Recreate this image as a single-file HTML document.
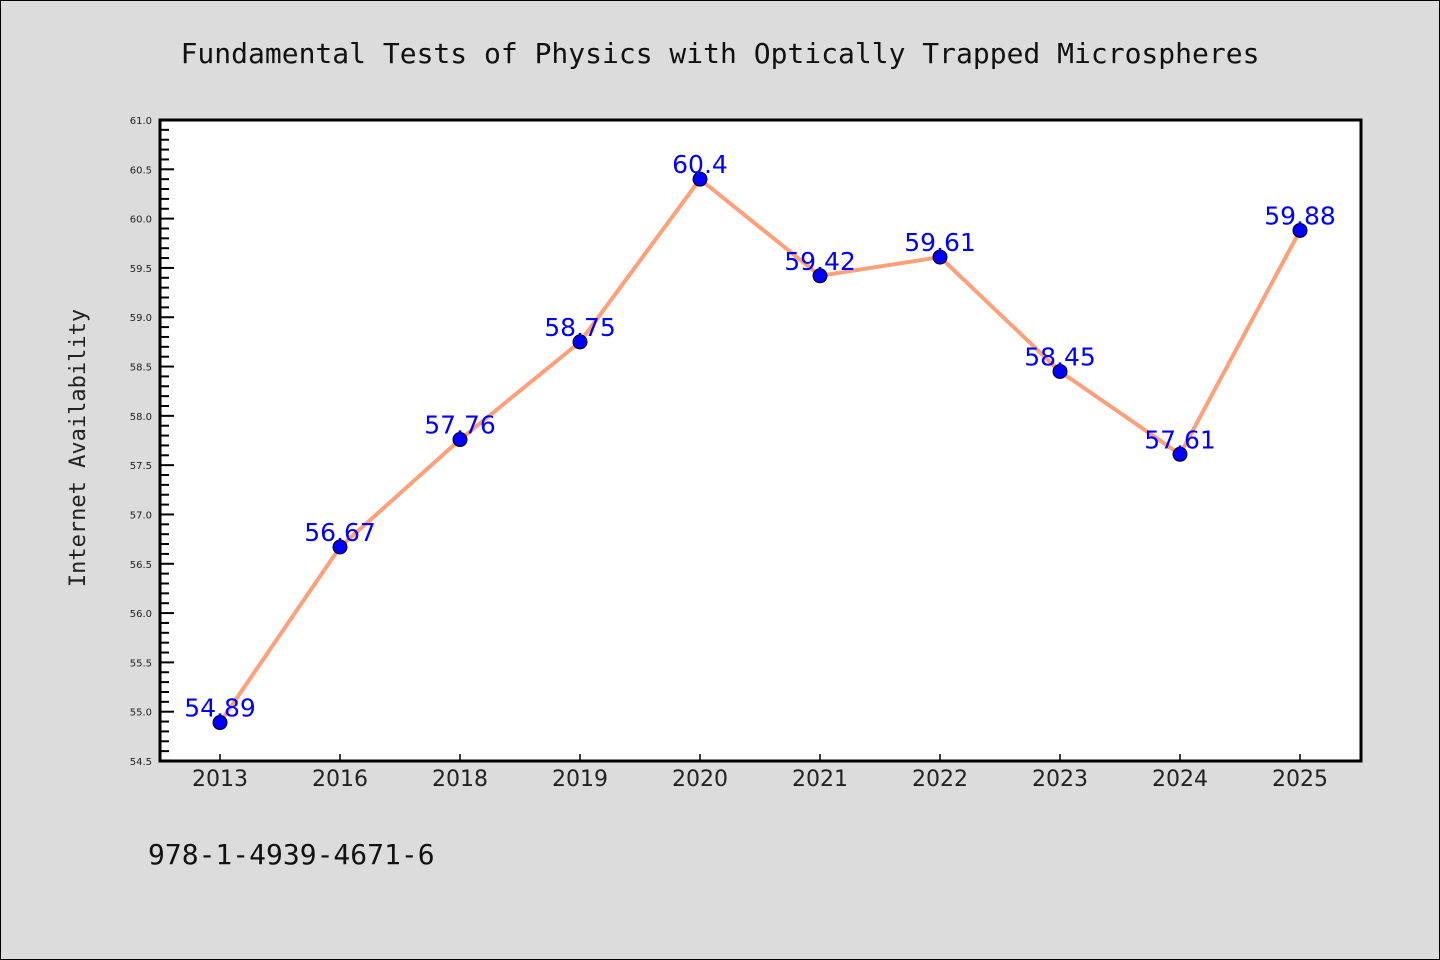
<!DOCTYPE html>
<html><head><meta charset="utf-8"><style>
body{margin:0;background:#dcdcdc;}
svg{display:block;font-family:"DejaVu Sans","Liberation Sans",sans-serif;}
</style></head><body>
<svg width="1440" height="960">
<rect x="0.5" y="0.5" width="1439" height="959" fill="#dcdcdc" stroke="#000"/>
<text x="720" y="63" text-anchor="middle" font-size="28" font-family="DejaVu Sans Mono,Liberation Mono,monospace" fill="#111">Fundamental Tests of Physics with Optically Trapped Microspheres</text>
<text transform="translate(85,448) rotate(-90)" text-anchor="middle" font-size="22" font-family="DejaVu Sans Mono,Liberation Mono,monospace" fill="#222">Internet Availability</text>
<text x="148" y="864" font-size="28" font-family="DejaVu Sans Mono,Liberation Mono,monospace" fill="#111">978-1-4939-4671-6</text>
<rect x="160" y="120" width="1201" height="641" fill="#fff"/>
<g id="axes"></g>
<g id="marks"></g>
<rect x="160" y="120" width="1201" height="641" fill="none" stroke="#000" stroke-width="3"/>
</svg>
<script>
const categories=["2013","2016","2018","2019","2020","2021","2022","2023","2024","2025"];
const values=[54.89,56.67,57.76,58.75,60.4,59.42,59.61,58.45,57.61,59.88];
const labels=["54.89","56.67","57.76","58.75","60.4","59.42","59.61","58.45","57.61","59.88"];
const yTicks=[54.5,55.0,55.5,56.0,56.5,57.0,57.5,58.0,58.5,59.0,59.5,60.0,60.5,61.0];
const NS="http://www.w3.org/2000/svg";
const L=160,R=1361,T=120,B=761,yMin=54.5,yMax=61.0;
const xs=i=>L+60+i*120;
const ys=v=>B-(v-yMin)/(yMax-yMin)*(B-T);
function mk(tag,a,p){const e=document.createElementNS(NS,tag);for(const k in a)e.setAttribute(k,a[k]);p.appendChild(e);return e;}
const ax=document.getElementById('axes'),mg=document.getElementById('marks');
yTicks.forEach((t,i)=>{
  const y=ys(t);
  const ln=mk('line',{x1:L,x2:L+14,y1:y,y2:y,stroke:'#000','stroke-width':2},ax);
  
  
  const tx=mk('text',{x:L-8,y:y+4,'text-anchor':'end','font-size':10,fill:'#222'},ax);
  tx.textContent=t.toFixed(1);
  
  
  if(i<yTicks.length-1){for(let k=1;k<5;k++){const yy=ys(t+k*0.1);
    const m=mk('line',{x1:L,x2:L+9,y1:yy,y2:yy,stroke:'#000','stroke-width':2},ax);
    
    }}
});
categories.forEach((c,i)=>{
  const x=xs(i);
  const tk=mk('line',{x1:x,x2:x,y1:B-7,y2:B,stroke:'#000','stroke-width':1.5},ax);
  
  
  const tx=mk('text',{x:x,y:B+25,'text-anchor':'middle','font-size':22,fill:'#222'},ax);
  tx.textContent=c;
  
  
});
const pl=mk('polyline',{points:values.map((v,i)=>xs(i)+','+ys(v)).join(' '),fill:'none',stroke:'#FFA07A','stroke-width':4,'stroke-linejoin':'round'},mg);


values.forEach((v,i)=>{
  const c=mk('circle',{cx:xs(i),cy:ys(v),r:7,fill:'#0000ff',stroke:'#000','stroke-width':1},mg);
  
  
  const t=mk('text',{x:xs(i),y:ys(v)-6,'text-anchor':'middle','font-size':25,fill:'#0000ff'},mg);
  t.textContent=labels[i];
  
  
});
</script>
</body></html>
